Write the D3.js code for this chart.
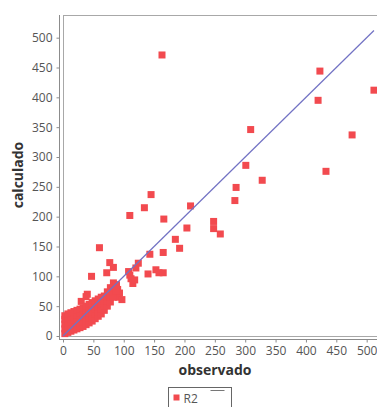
<!DOCTYPE html>
<html>
<head>
<meta charset="utf-8">
<script src="https://cdn.jsdelivr.net/npm/d3@7"></script>
<style>
  body { margin: 0; background: #fff; }
  text { font-family: "Open Sans", sans-serif; }
</style>
</head>
<body>
<div id="chart"></div>
<script>
// observado / calculado pairs
var observado = [
    163, 423, 420, 512, 309, 476, 301, 433, 328, 285, 145, 283,
    210, 204, 248, 248, 259, 185, 192, 134, 110, 166, 60, 165,
    143, 77, 83, 124, 120, 153, 158, 165, 140, 72, 108, 110,
    112, 115, 118, 47, 40, 30, 38, 91, 97, 88, 90, 93,
    3, 3, 3, 3, 3,
    8, 8, 8, 8, 8,
    13, 13, 13, 13, 13,
    18, 18, 18, 18, 18,
    23, 23, 23, 23, 23,
    28, 28, 28, 28, 28,
    33, 33, 33, 33, 33,
    38, 38, 38, 38, 38,
    43, 43, 43, 43, 43,
    48, 48, 48, 48, 48,
    53, 53, 53, 53, 53,
    58, 58, 58, 58, 58,
    63, 63, 63, 63, 63,
    68, 68, 68, 68,
    73, 73, 73, 73,
    78, 78, 78, 78,
    83, 83, 83, 83,
    88, 88
];
var calculado = [
    471, 444, 395, 412, 346, 337, 286, 276, 261, 249, 237, 227,
    218, 181, 192, 180, 171, 162, 147, 215, 202, 196, 148, 140,
    137, 123, 115, 122, 114, 111, 106, 106, 104, 106, 108, 102,
    96, 88, 94, 100, 70, 58, 66, 65, 61, 84, 78, 72,
    4, 12, 20, 28, 34,
    6, 14, 22, 30, 37,
    8, 16, 24, 32, 39,
    10, 18, 26, 34, 41,
    12, 20, 28, 36, 43,
    14, 22, 30, 38, 45,
    16, 24, 32, 40, 47,
    19, 27, 35, 43, 50,
    22, 30, 38, 46, 53,
    25, 33, 41, 49, 56,
    29, 37, 45, 53, 59,
    33, 41, 49, 57, 62,
    37, 45, 53, 61, 65,
    43, 51, 59, 67,
    50, 58, 66, 74,
    57, 65, 73, 81,
    65, 73, 81, 89,
    76, 86
];
// y = x reference line
var lineObs = [0, 512];
var lineCalc = [0, 512];

var xTicks = [0, 50, 100, 150, 200, 250, 300, 350, 400, 450, 500];
var yTicks = [0, 50, 100, 150, 200, 250, 300, 350, 400, 450, 500];

var seriesName = "R2";
var pointColor = "#f24a4f";
var lineColor = "#7272c4";
var axisColor = "#8c8c8c";
var labelColor = "#555";

var width = 377, height = 407;
var plot = { left: 63, top: 15, right: 378, bottom: 336 };

var svg = d3.select("#chart").append("svg")
    .attr("width", width)
    .attr("height", height);

var x = d3.scaleLinear().domain([0, 517]).range([plot.left, 377]);
var y = d3.scaleLinear().domain([0, 538]).range([plot.bottom, plot.top]);

// plot frame
svg.append("rect")
    .attr("x", plot.left + 0.5)
    .attr("y", plot.top + 0.5)
    .attr("width", plot.right - plot.left)
    .attr("height", plot.bottom - plot.top)
    .attr("fill", "#fff")
    .attr("stroke", "#a8a8a8");

// axes, offset a little from the frame
var yAxis = d3.axisLeft(y).tickValues(yTicks).tickSize(3).tickSizeOuter(0).tickPadding(4);
var xAxis = d3.axisBottom(x).tickValues(xTicks).tickSize(3).tickSizeOuter(0).tickPadding(4);

var gy = svg.append("g")
    .attr("transform", "translate(59.5,0)")
    .call(yAxis);
gy.select(".domain").attr("d", "M0," + plot.top + "V340");

var gx = svg.append("g")
    .attr("transform", "translate(0,339.5)")
    .call(xAxis);
gx.select(".domain").attr("d", "M59," + 0 + "H377");

svg.selectAll(".domain, .tick line").attr("stroke", axisColor);
svg.selectAll(".tick text")
    .attr("fill", labelColor)
    .style("font-size", "12px");

// points
var pts = observado.map(function(d, i) { return { obs: d, calc: calculado[i] }; });
var s = 7;
svg.append("g").selectAll("rect")
    .data(pts)
    .enter().append("rect")
    .attr("x", function(d) { return x(d.obs) - s / 2; })
    .attr("y", function(d) { return y(d.calc) - s / 2; })
    .attr("width", s)
    .attr("height", s)
    .attr("fill", pointColor);

// reference line
var line = d3.line()
    .x(function(d) { return x(d[0]); })
    .y(function(d) { return y(d[1]); });
svg.append("path")
    .datum(lineObs.map(function(d, i) { return [d, lineCalc[i]]; }))
    .attr("d", line)
    .attr("fill", "none")
    .attr("stroke", lineColor)
    .attr("stroke-width", 1.2);

// axis titles
svg.append("text")
    .attr("x", 215)
    .attr("y", 375)
    .attr("text-anchor", "middle")
    .attr("fill", "#333")
    .style("font-size", "14px")
    .style("font-weight", "bold")
    .text("observado");

svg.append("text")
    .attr("transform", "translate(23,175) rotate(-90)")
    .attr("text-anchor", "middle")
    .attr("fill", "#333")
    .style("font-size", "14px")
    .style("font-weight", "bold")
    .text("calculado");

// legend
var leg = svg.append("g").attr("transform", "translate(168.5,387.5)");
leg.append("rect")
    .attr("width", 63)
    .attr("height", 26)
    .attr("fill", "#fff")
    .attr("stroke", "#666");
leg.append("rect")
    .attr("x", 5)
    .attr("y", 7)
    .attr("width", 6)
    .attr("height", 6)
    .attr("fill", pointColor);
leg.append("text")
    .attr("x", 15)
    .attr("y", 15)
    .attr("fill", labelColor)
    .style("font-size", "12px")
    .text(seriesName);
leg.append("line")
    .attr("x1", 42)
    .attr("x2", 56)
    .attr("y1", 3)
    .attr("y2", 3)
    .attr("stroke", "#777");
</script>
</body>
</html>
